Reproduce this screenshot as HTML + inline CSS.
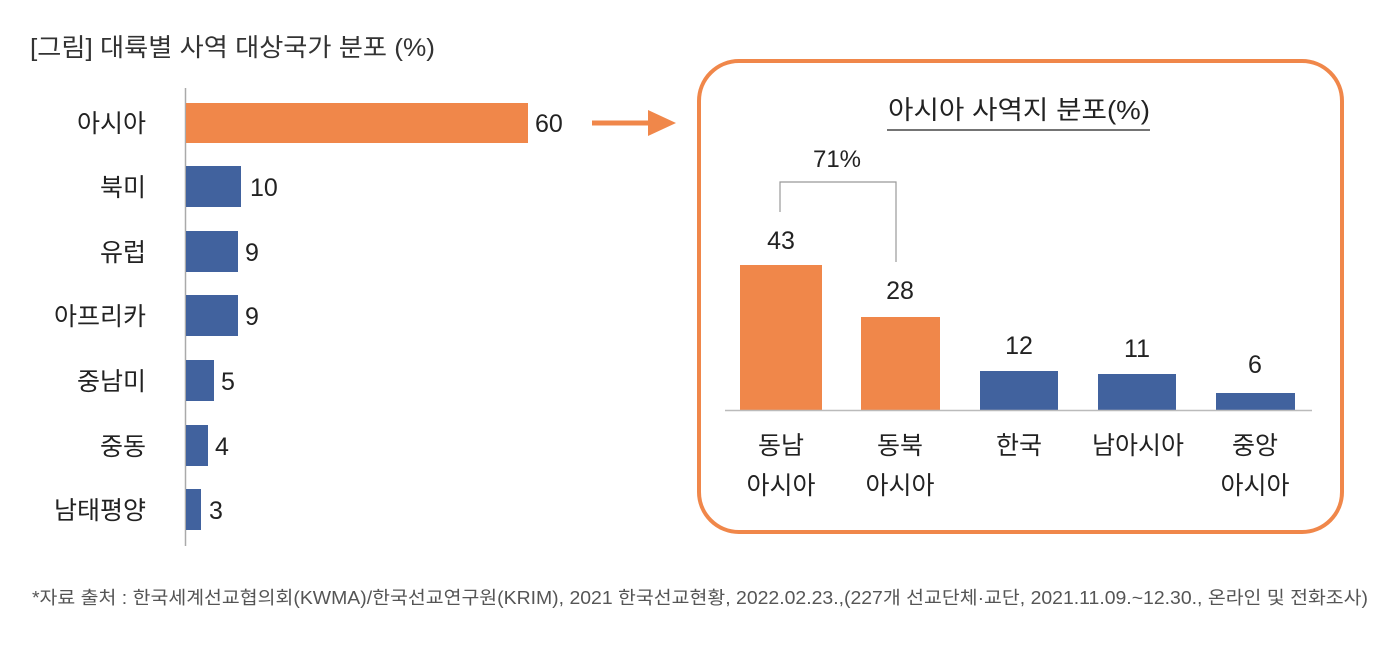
<!DOCTYPE html>
<html><head><meta charset="utf-8"><style>
html,body{margin:0;padding:0;background:#fff;}
body{width:1398px;height:648px;overflow:hidden;font-family:"Liberation Sans","Noto Sans CJK KR",sans-serif;}
</style></head><body>
<svg width="1398" height="648" xmlns="http://www.w3.org/2000/svg" font-family="'Liberation Sans','Noto Sans CJK KR',sans-serif">
<text x="30" y="56" font-size="25" fill="#333" textLength="405" lengthAdjust="spacingAndGlyphs">[그림] 대륙별 사역 대상국가 분포 (%)</text>
<line x1="185.5" y1="88" x2="185.5" y2="546" stroke="#aaa" stroke-width="1.5"/>
<g font-size="25" fill="#222" text-anchor="end">
<text x="146" y="132">아시아</text><text x="146" y="196">북미</text><text x="146" y="261">유럽</text>
<text x="146" y="325">아프리카</text><text x="146" y="390">중남미</text><text x="146" y="455">중동</text><text x="146" y="519">남태평양</text>
</g>
<rect x="186" y="103" width="342" height="40" fill="#F0874A"/>
<g fill="#41629E">
<rect x="186" y="166" width="55" height="41"/><rect x="186" y="231" width="52" height="41"/>
<rect x="186" y="295" width="52" height="41"/><rect x="186" y="360" width="28" height="41"/>
<rect x="186" y="425" width="22" height="41"/><rect x="186" y="489" width="15" height="41"/>
</g>
<g font-size="25" fill="#222">
<text x="535" y="132">60</text><text x="250" y="196">10</text><text x="245" y="261">9</text>
<text x="245" y="325">9</text><text x="221" y="390">5</text><text x="215" y="455">4</text><text x="209" y="519">3</text>
</g>
<line x1="592" y1="123" x2="652" y2="123" stroke="#F0874A" stroke-width="5"/>
<polygon points="648,110 676,123 648,136" fill="#F0874A"/>
<rect x="699" y="61" width="643" height="471" rx="40" fill="none" stroke="#F0874A" stroke-width="4"/>
<text x="888" y="119" font-size="26" fill="#222" textLength="262" lengthAdjust="spacingAndGlyphs">아시아 사역지 분포(%)</text>
<line x1="887" y1="130" x2="1150" y2="130" stroke="#222" stroke-width="1.2"/>
<text x="837" y="167" font-size="24" fill="#222" text-anchor="middle">71%</text>
<polyline points="780,212 780,182 896,182 896,262" fill="none" stroke="#999" stroke-width="1.2"/>
<rect x="740" y="265" width="82" height="145" fill="#F0874A"/>
<rect x="861" y="317" width="79" height="93" fill="#F0874A"/>
<rect x="980" y="371" width="78" height="39" fill="#41629E"/>
<rect x="1098" y="374" width="78" height="36" fill="#41629E"/>
<rect x="1216" y="393" width="79" height="17" fill="#41629E"/>
<line x1="725" y1="410.5" x2="1312" y2="410.5" stroke="#bbb" stroke-width="1.5"/>
<g font-size="25" fill="#222" text-anchor="middle">
<text x="781" y="249">43</text><text x="900" y="299">28</text><text x="1019" y="354">12</text>
<text x="1137" y="357">11</text><text x="1255" y="373">6</text>
</g>
<g font-size="25" fill="#222" text-anchor="middle">
<text x="781" y="454">동남</text><text x="781" y="494">아시아</text>
<text x="900" y="454">동북</text><text x="900" y="494">아시아</text>
<text x="1019" y="454">한국</text><text x="1138" y="454">남아시아</text>
<text x="1255" y="454">중앙</text><text x="1255" y="494">아시아</text>
</g>
<text x="32" y="604" font-size="18" fill="#555" textLength="1336" lengthAdjust="spacingAndGlyphs">*자료 출처 : 한국세계선교협의회(KWMA)/한국선교연구원(KRIM), 2021 한국선교현황, 2022.02.23.,(227개 선교단체·교단, 2021.11.09.~12.30., 온라인 및 전화조사)</text>
</svg>
</body></html>
